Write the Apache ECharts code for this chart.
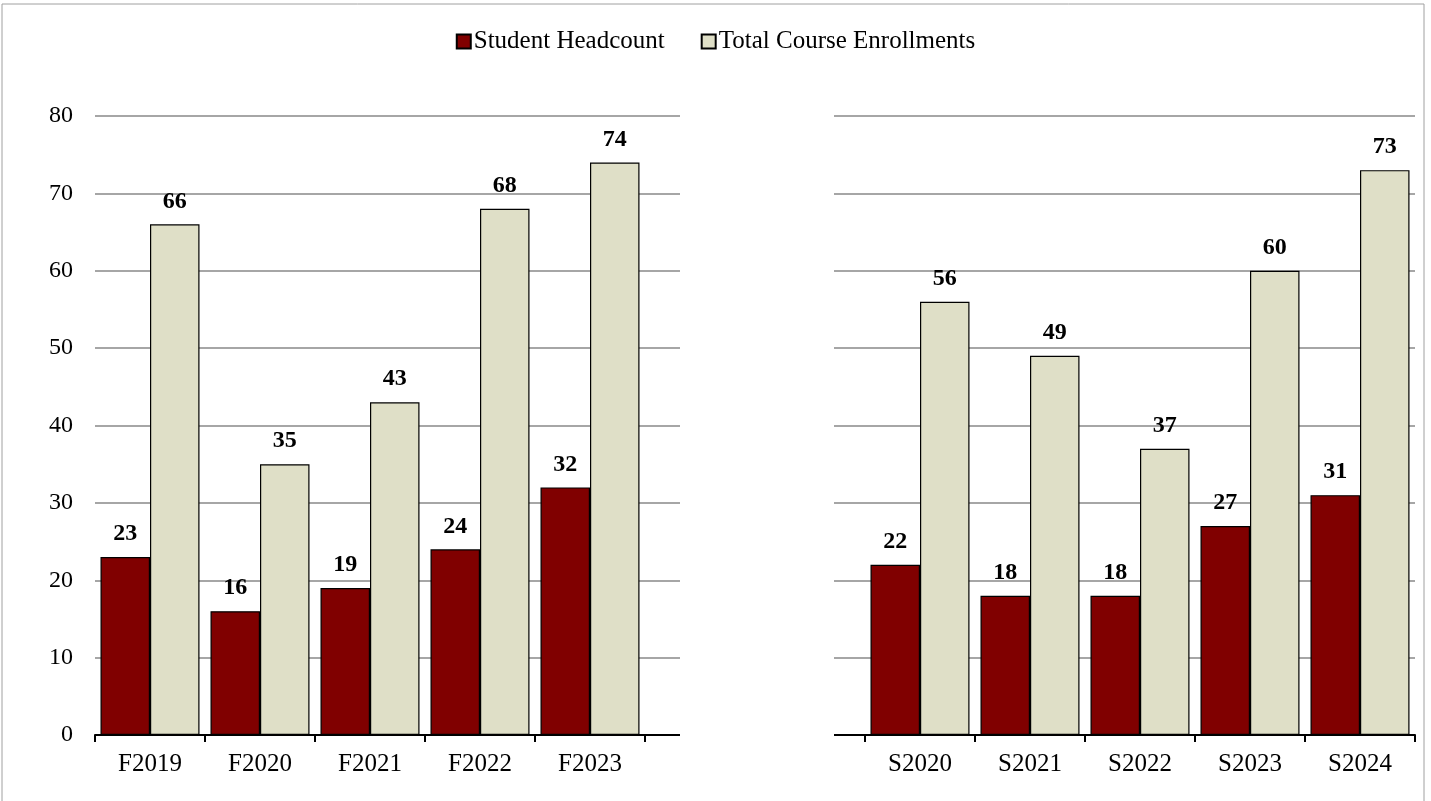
<!DOCTYPE html>
<html>

<head>
    <meta charset="utf-8">
    <title>Headcount and Enrollments</title>
    <script src="https://cdn.jsdelivr.net/npm/echarts@6/dist/echarts.min.js"></script>
</head>
<style>
    html,
    body {
        margin: 0;
        padding: 0;
        background: #fff;
    }

    #chart_box {
        width: 1431px;
        height: 801px;
    }
</style>

<body>
    <div id="chart_box"></div>

    <script>
        // two blank slots separate the fall and spring terms
        var terms = ['F2019', 'F2020', 'F2021', 'F2022', 'F2023', '', '', 'S2020', 'S2021', 'S2022', 'S2023', 'S2024'];
        var headcount = [23, 16, 19, 24, 32, '-', '-', 22, 18, 18, 27, 31];
        var enrollments = [66, 35, 43, 68, 74, '-', '-', 56, 49, 37, 60, 73];
        var yTicks = [0, 10, 20, 30, 40, 50, 60, 70, 80];

        var font = '"Liberation Serif", "Times New Roman", serif';
        var myChart = echarts.init(document.getElementById('chart_box'));

        var labelStyle = {
            show: true,
            position: 'top',
            distance: 11,
            fontFamily: font,
            fontSize: 24,
            fontWeight: 'bold',
            color: '#000'
        };

        var option = {
            animation: false,
            legend: {
                top: 24,
                left: 'center',
                itemWidth: 14,
                itemHeight: 14,
                itemGap: 36,
                icon: 'rect',
                textStyle: {
                    fontFamily: font,
                    fontSize: 25,
                    color: '#000',
                    padding: [0, 0, 0, -2]
                },
                data: ['Student Headcount', 'Total Course Enrollments']
            },
            grid: {
                left: 95,
                right: 16,
                top: 116,
                bottom: 66
            },
            xAxis: {
                type: 'category',
                data: terms,
                axisLine: {
                    lineStyle: {
                        color: '#000',
                        width: 2
                    }
                },
                axisTick: {
                    show: true,
                    length: 7,
                    lineStyle: {
                        color: '#000',
                        width: 2
                    }
                },
                axisLabel: {
                    interval: 0,
                    margin: 17,
                    fontFamily: font,
                    fontSize: 25,
                    color: '#000'
                }
            },
            yAxis: {
                type: 'value',
                min: yTicks[0],
                max: yTicks[yTicks.length - 1],
                interval: 10,
                axisLine: {
                    show: false
                },
                axisTick: {
                    show: false
                },
                axisLabel: {
                    margin: 22,
                    fontFamily: font,
                    fontSize: 24,
                    color: '#000'
                },
                splitLine: {
                    lineStyle: {
                        color: '#a6a6a6',
                        width: 2
                    }
                }
            },
            series: [{
                name: 'Student Headcount',
                type: 'bar',
                data: headcount,
                barGap: '0%',
                barCategoryGap: '10%',
                itemStyle: {
                    color: '#800000',
                    borderColor: '#000',
                    borderWidth: 1.2
                },
                label: labelStyle
            }, {
                name: 'Total Course Enrollments',
                type: 'bar',
                data: enrollments,
                barGap: '0%',
                barCategoryGap: '10%',
                itemStyle: {
                    color: '#dfdfc7',
                    borderColor: '#000',
                    borderWidth: 1.2
                },
                label: labelStyle
            }],
            graphic: [{
                // blank out the axis between the two term groups
                type: 'rect',
                z: 100,
                shape: {
                    x: 680,
                    y: 100,
                    width: 154,
                    height: 650
                },
                style: {
                    fill: '#fff'
                }
            }, {
                type: 'rect',
                z: 100,
                shape: {
                    x: 2,
                    y: 4,
                    width: 1422,
                    height: 820
                },
                style: {
                    fill: 'none',
                    stroke: '#a0a0a0',
                    lineWidth: 1
                }
            }]
        };

        myChart.setOption(option);
    </script>
</body>

</html>
